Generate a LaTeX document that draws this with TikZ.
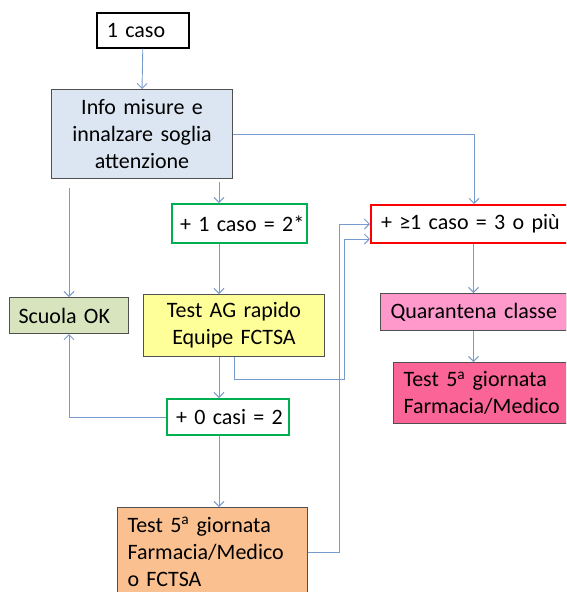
\documentclass[tikz,border=0pt]{standalone}
\usepackage{fontspec}
\setmainfont{Carlito}
\usetikzlibrary{arrows.meta}
\definecolor{boxgrey}{RGB}{80,80,80}
\definecolor{flowblue}{RGB}{120,155,205}
\definecolor{checkgreen}{RGB}{0,176,80}
\definecolor{alertred}{RGB}{255,0,0}
\definecolor{infoblue}{RGB}{220,230,242}
\definecolor{okgreen}{RGB}{215,228,189}
\definecolor{agyellow}{RGB}{255,255,153}
\definecolor{farmorange}{RGB}{250,192,144}
\definecolor{quarpink}{RGB}{255,153,204}
\definecolor{deeppink}{RGB}{250,100,150}

\begin{document}
\begin{tikzpicture}[x=1pt,y=-1pt,font=\fontsize{22}{27}\selectfont]
        %
        % `box' is used for every step of the scheme.
        % `check' is used for the green count boxes.
        % `flow' is used for the blue connectors.
        \tikzstyle{box} = [draw=boxgrey,line width=1pt,anchor=north west,inner xsep=9pt,inner ysep=0pt,align=left,execute at begin node={\hfuzz=20pt}]
        \tikzstyle{check} = [box,draw=checkgreen,line width=2pt]
        \tikzstyle{flow} = [draw=flowblue,line width=0.9pt,-{Straight Barb[length=5pt,width=10pt]}]
        %
        % Page
        \clip (0,0) rectangle (566,592);
        %
        % Row 1
        \node[box,draw=black,line width=1.6pt,inner xsep=10pt,text width=72pt,minimum height=35pt] (caso) at (96,12) {\mbox{1 caso}};
        %
        % Row 2
        \node[box,fill=infoblue,align=center,text width=163pt,minimum height=89pt] (info) at (51,89) {Info misure e\\innalzare soglia\\attenzione};
        %
        % Row 3
        \node[check,inner xsep=8pt,text width=119pt,minimum height=39pt] (piudue) at (171,203) {\mbox{+ 1 caso = 2*}};
        \node[box,draw=alertred,line width=2pt,inner xsep=10pt,text width=186pt,minimum height=38pt] (piutre) at (370,204) {\mbox{+ ≥1 caso = 3 o più}};
        %
        % Row 4
        \node[box,fill=okgreen,text width=101pt,minimum height=36pt] (scuola) at (9,297) {\mbox{Scuola OK}};
        \node[box,fill=agyellow,align=center,text width=163pt,minimum height=62pt] (testag) at (143,294) {Test AG rapido\\Equipe FCTSA};
        \node[box,fill=quarpink,inner xsep=10pt,text width=166pt,minimum height=37pt] (quarantena) at (380,293) {\mbox{Quarantena classe}};
        %
        % Row 5
        \node[box,fill=deeppink,inner xsep=10pt,text width=168pt,minimum height=61pt] (testquar) at (393,362) {Test 5\textsuperscript{a} giornata\\Farmacia/Medico};
        \node[check,text width=104pt,minimum height=36pt] (zerocasi) at (166,398) {\mbox{+ 0 casi = 2}};
        %
        % Row 6
        \node[box,fill=farmorange,inner xsep=10pt,text width=170pt,minimum height=89pt] (testfarm) at (117,507) {Test 5\textsuperscript{a} giornata\\Farmacia/Medico\\o FCTSA};
        %
        % Bends
        \coordinate (spine) at (219,0);
        \coordinate (riseA) at (344,379);
        \coordinate (riseB) at (339,0);
        %
        % Connectors
        \draw[flow] (caso.south) -- (info.north);
        \draw[flow,shorten <=3pt] (info.south -| spine) -- (piudue.north -| spine);
        \draw[flow,shorten <=9pt] (info.south -| scuola.north) -- (scuola.north);
        \draw[flow] (info.east) -| (piutre.north);
        \draw[flow] (piutre.south -| quarantena.north) -- (quarantena.north);
        \draw[flow] (quarantena.south) -- (testquar.north -| quarantena.south);
        \draw[flow] (piudue.south -| spine) -- (testag.north -| spine);
        \draw[flow] (testag.south -| spine) -- (zerocasi.north -| spine);
        \draw[flow] (testag.south) |- (riseA) |- ([yshift=-15pt]piutre.west);
        \draw[flow] (zerocasi.west) -| (scuola.south);
        \draw[flow] (zerocasi.south -| spine) -- (testfarm.north -| spine);
        \draw[flow] (testfarm.east) -| (riseB |- piutre.west) -- (piutre.west);
        %
\end{tikzpicture}
\end{document}
